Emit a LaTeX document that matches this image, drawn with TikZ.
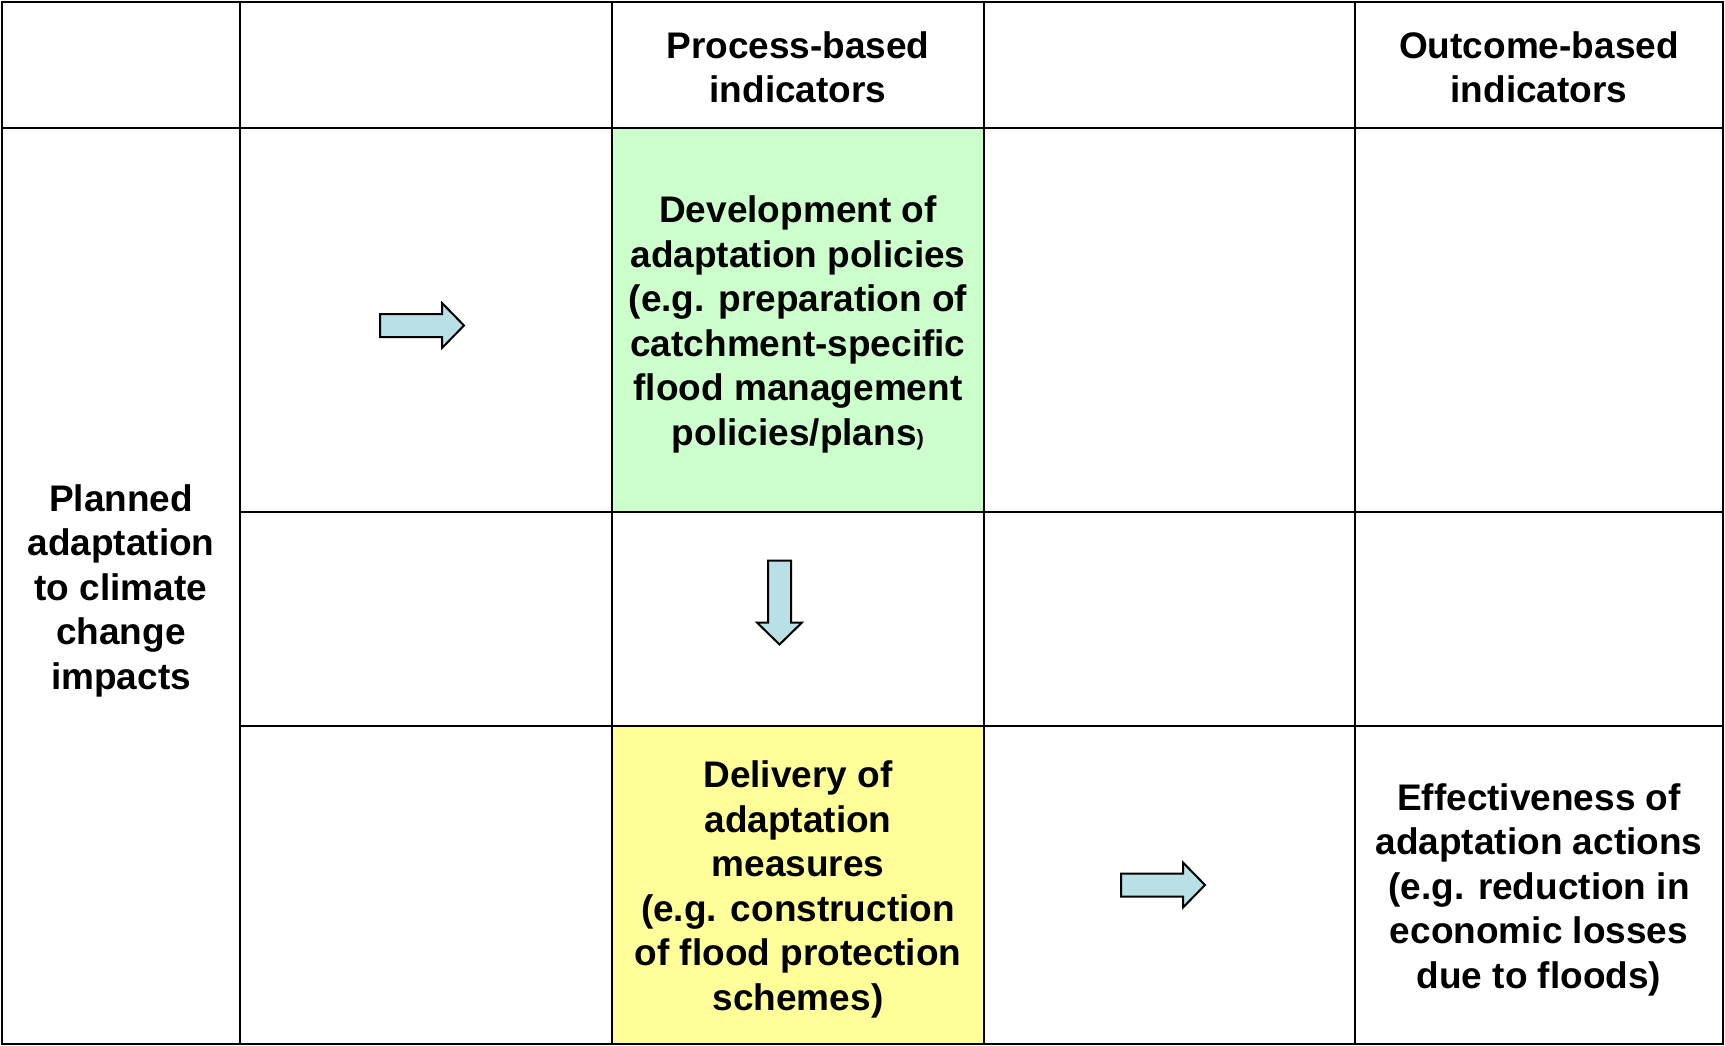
\documentclass[tikz,border=0pt]{standalone}
\usepackage{fontspec}
\setmainfont{Liberation Sans}
\usepackage{tikz}
\usetikzlibrary{positioning}
\definecolor{policygreen}{RGB}{204,255,204}
\definecolor{measureyellow}{RGB}{255,255,153}
\definecolor{arrowblue}{RGB}{185,224,228}
\newcommand{\topgap}[1][36pt]{\rule{0pt}{#1}}

\tikzset{
  rarrow/.pic={
    \draw[line width=2pt, fill=arrowblue, line join=miter]
      (-42,-11.5) -- (20,-11.5) -- (20,-22.5) -- (42,0) -- (20,22.5)
      -- (20,11.5) -- (-42,11.5) -- cycle;
  }
}

\begin{document}
\begin{tikzpicture}[
    x=1pt, y=-1pt,
    node distance=0pt,
    font=\fontsize{37}{44.5}\selectfont\bfseries,
    cell/.style={
		rectangle,
		draw=black,
		line width=2.6pt,
		inner sep=0pt,
		outer sep=0pt,
		align=center
	},
	colA/.style={minimum width=238pt},
	colB/.style={minimum width=372pt},
	colC/.style={minimum width=372pt},
	colD/.style={minimum width=371pt},
	colE/.style={minimum width=368pt},
	rowA/.style={minimum height=126pt},
	rowB/.style={minimum height=384pt},
	rowC/.style={minimum height=214pt},
	rowD/.style={minimum height=318pt}
  ]
  \useasboundingbox (0,0) rectangle (1725,1045);
  \fill[white] (0,0) rectangle (1725,1045);

  % header row
  \node [cell, colA, rowA, anchor=north west] (corner) at (2,2) {};
  \node [cell, colB, rowA, right=of corner] (headB) {};
  \node [cell, colC, rowA, right=of headB] (process) {\topgap[31pt]Process-based\\indicators};
  \node [cell, colD, rowA, right=of process] (headD) {};
  \node [cell, colE, rowA, right=of headD] (outcome) {\topgap[31pt]Outcome-based\\indicators};

  % left column
  \node [cell, colA, minimum height=916pt, below=of corner] (planned)
 {\topgap Planned\\adaptation\\to climate\\change\\impacts};

  % policies row
  \node [cell, colB, rowB, below=of headB] (polB) {};
  \node [cell, colC, rowB, fill=policygreen, below=of process] (policies)
 {\topgap Development of\\adaptation policies\\(e.g. preparation of\\catchment-specific\\flood management\\policies/plans{\fontsize{22}{22}\selectfont)}};
  \node [cell, colD, rowB, below=of headD] (polD) {};
  \node [cell, colE, rowB, below=of outcome] (polE) {};

  % middle row
  \node [cell, colB, rowC, below=of polB] (midB) {};
  \node [cell, colC, rowC, below=of policies] (midC) {};
  \node [cell, colD, rowC, below=of polD] (midD) {};
  \node [cell, colE, rowC, below=of polE] (midE) {};

  % measures row
  \node [cell, colB, rowD, below=of midB] (meaB) {};
  \node [cell, colC, rowD, fill=measureyellow, below=of midC] (measures)
 {\topgap Delivery of\\adaptation\\measures\\(e.g. construction\\of flood protection\\schemes)};
  \node [cell, colD, rowD, below=of midD] (meaD) {};
  \node [cell, colE, rowD, below=of midE] (effect)
 {\topgap Effectiveness of\\adaptation actions\\(e.g. reduction in\\economic losses\\due to floods)};

  % block arrows
  \pic at (422,325.5) {rarrow};
  \pic [rotate=-90] at (779.5,602.5) {rarrow};
  \pic at (1163,885) {rarrow};

\end{tikzpicture}
\end{document}
